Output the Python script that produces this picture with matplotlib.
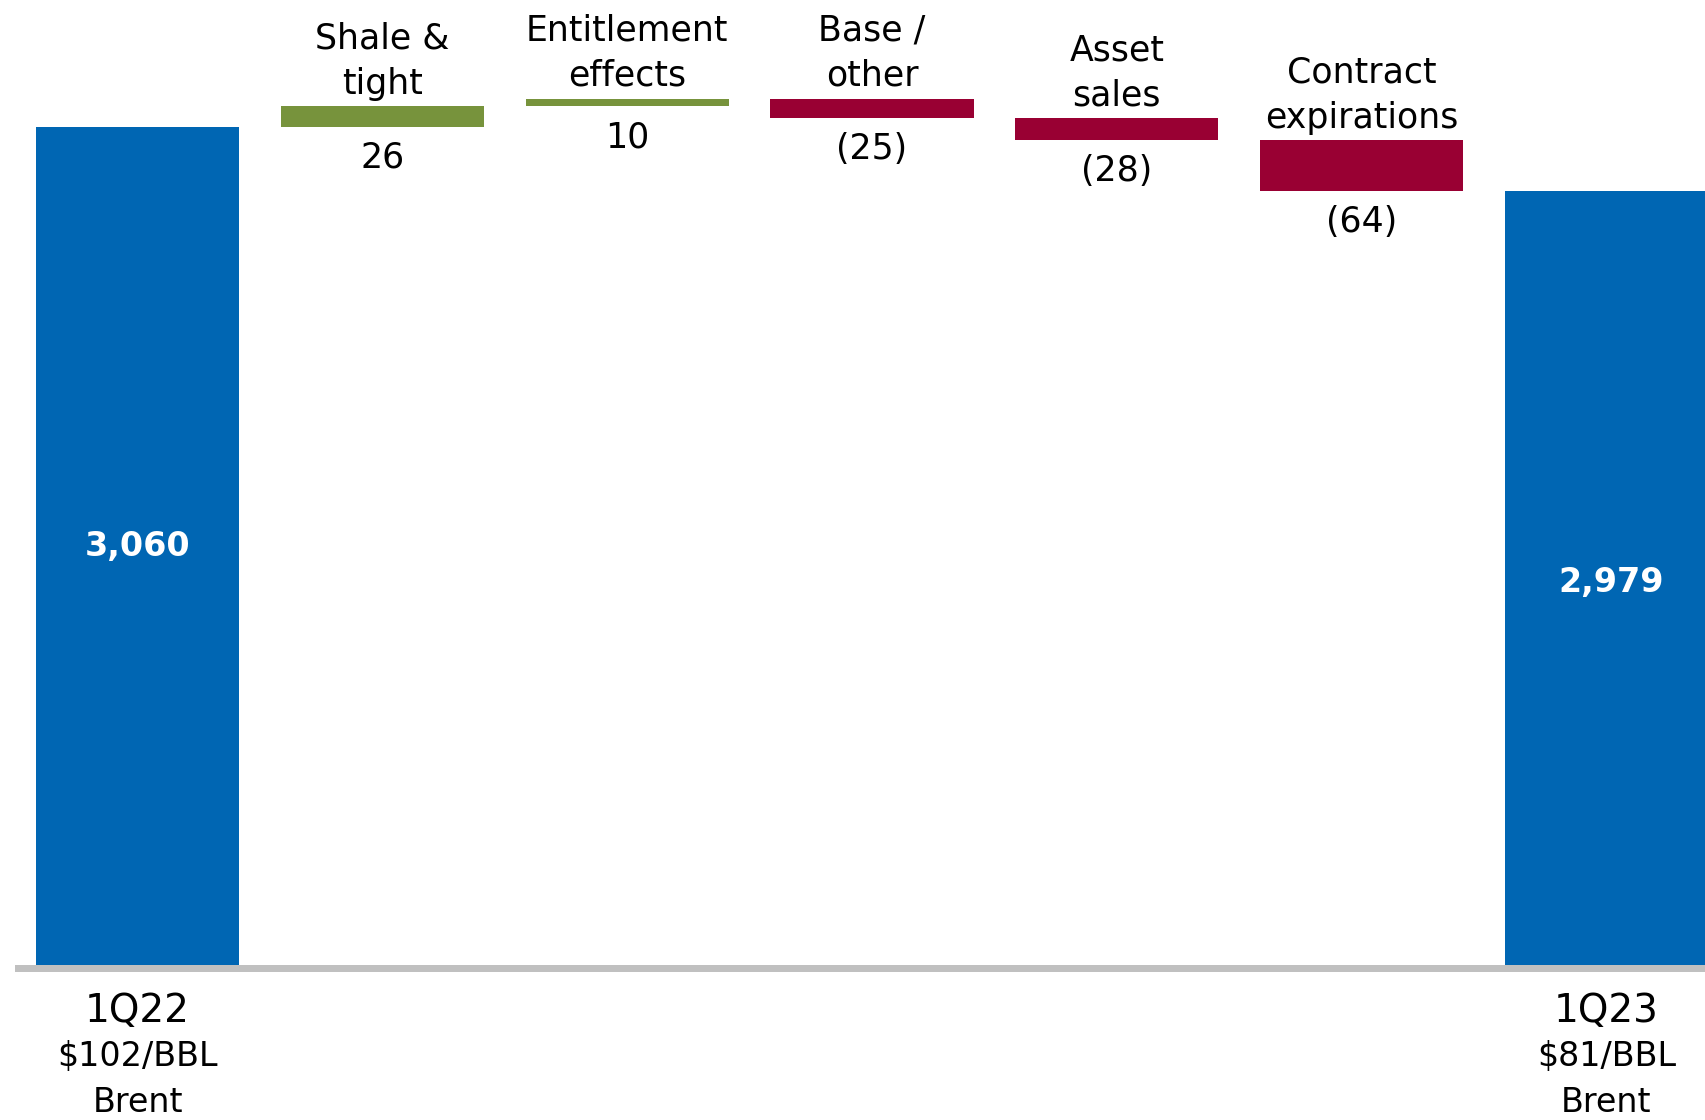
import matplotlib
matplotlib.use("Agg")
import matplotlib.pyplot as plt
from matplotlib.patches import Rectangle

# Production walk, 1Q22 -> 1Q23 (MBOED)
start_label = "1Q22\n$102/BBL\nBrent"
end_label = "1Q23\n$81/BBL\nBrent"
start_value = 3060
end_value = 2979
step_names = ["Shale &\ntight", "Entitlement\neffects", "Base /\nother",
              "Asset\nsales", "Contract\nexpirations"]
step_values = [26, 10, -25, -28, -64]

BLUE = "#0066B3"
GREEN = "#77933C"
RED = "#990033"
FLOOR = 2000

plt.rcParams["font.family"] = ["DejaVu Sans"]

fig = plt.figure(figsize=(17.06, 11.2), dpi=100)
ax = fig.add_axes([0, 0, 1, 1])
ax.axis("off")
ax.set_xlim(-0.562, 6.407)
ax.set_ylim(1804, 3220.6)

width = 0.83

# totals at both ends
ax.bar([0, 6], [start_value - FLOOR, end_value - FLOOR], bottom=FLOOR,
       width=width, color=BLUE, zorder=2)
ax.text(0, (start_value + FLOOR) / 2, f"{start_value:,}", color="white",
        fontsize=24, fontweight="bold", ha="center", va="center")
ax.text(6.02, (end_value + FLOOR) / 2 - 6, f"{end_value:,}", color="white",
        fontsize=24, fontweight="bold", ha="center", va="center")

# floating steps
running = start_value
for i, (name, val) in enumerate(zip(step_names, step_values), start=1):
    low = running if val > 0 else running + val
    high = low + abs(val)
    ax.bar(i, abs(val), bottom=low, width=width,
           color=GREEN if val > 0 else RED, zorder=2)
    ax.annotate(name, (i, high), xytext=(0, 4), textcoords="offset points",
                ha="center", va="bottom", fontsize=25, linespacing=1.42)
    txt = str(val) if val > 0 else f"({-val})"
    ax.annotate(txt, (i, low), xytext=(0, -10), textcoords="offset points",
                ha="center", va="top", fontsize=25)
    running += val

# base line
ax.add_patch(Rectangle((-0.5, FLOOR - 8.85), 7.5, 8.85, color="#C0C0C0",
                       lw=0, zorder=1))

# x labels under the total bars
tr = ax.get_xaxis_transform()
for x, lab in [(0, start_label), (6, end_label)]:
    first, second, third = lab.split("\n")
    ax.text(x, 0.0973, first, transform=tr, ha="center", va="center",
            fontsize=28)
    ax.text(x, 0.0563, second, transform=tr, ha="center", va="center",
            fontsize=24)
    ax.text(x, 0.016, third, transform=tr, ha="center", va="center",
            fontsize=24)

plt.savefig("out.png", dpi=100)
